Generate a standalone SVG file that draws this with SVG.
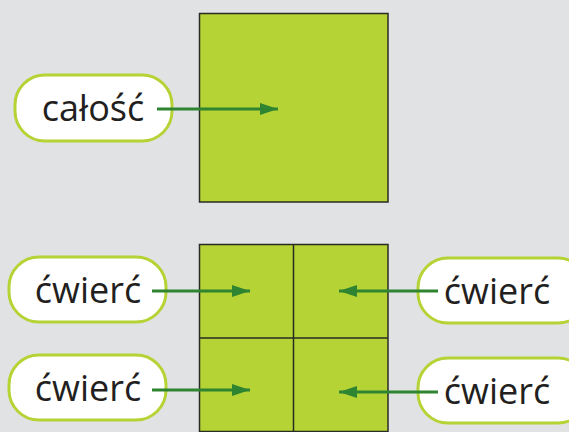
<svg xmlns="http://www.w3.org/2000/svg" width="569" height="432" viewBox="0 0 569 432">
<defs>
<style>
.sq{fill:#b5d334;stroke:#2b2b25;stroke-width:1.5}
.pill{fill:#ffffff;stroke:#b5d334;stroke-width:3}
.lbl{font-family:"Open Sans","Noto Sans",sans-serif;font-size:36px;fill:#231f20;text-anchor:middle}
.con{stroke:#2e8431;stroke-width:3;fill:none}
</style>
<marker id="ah" viewBox="0 0 18 12" refX="18" refY="6" markerWidth="18" markerHeight="12" markerUnits="userSpaceOnUse" orient="auto">
<path d="M0,0 L18,6 L0,12 Z" fill="#2e8431"/>
</marker>
</defs>
<rect width="569" height="432" fill="#e1e2e4"/>
<g id="whole">
<rect class="sq" x="199.5" y="13.5" width="188.5" height="188.5"/>
</g>
<g id="quarters">
<rect class="sq" x="199.5" y="244.5" width="188.5" height="187"/>
<line x1="293.5" y1="244.5" x2="293.5" y2="432" stroke="#2b2b25" stroke-width="1.5"/>
<line x1="199.5" y1="338" x2="388" y2="338" stroke="#2b2b25" stroke-width="1.5"/>
</g>
<g id="label-calosc">
<rect class="pill" x="15" y="75" width="157" height="66" rx="30"/>
<text class="lbl" x="93" y="121">całość</text>
</g>
<g id="label-tl">
<rect class="pill" x="9" y="257" width="157" height="65" rx="30"/>
<text class="lbl" x="88" y="303">ćwierć</text>
</g>
<g id="label-bl">
<rect class="pill" x="9" y="355" width="157" height="65" rx="30"/>
<text class="lbl" x="88" y="401">ćwierć</text>
</g>
<g id="label-tr">
<rect class="pill" x="418" y="258" width="170" height="65" rx="30"/>
<text class="lbl" x="497" y="304">ćwierć</text>
</g>
<g id="label-br">
<rect class="pill" x="418" y="358" width="170" height="65" rx="30"/>
<text class="lbl" x="497" y="404">ćwierć</text>
</g>
<g id="connectors">
<line class="con" x1="157" y1="109" x2="278" y2="109" marker-end="url(#ah)"/>
<line class="con" x1="152" y1="291" x2="250" y2="291" marker-end="url(#ah)"/>
<line class="con" x1="152" y1="390" x2="250" y2="390" marker-end="url(#ah)"/>
<line class="con" x1="438" y1="291" x2="339" y2="291" marker-end="url(#ah)"/>
<line class="con" x1="438" y1="392" x2="339" y2="392" marker-end="url(#ah)"/>
</g>
</svg>
